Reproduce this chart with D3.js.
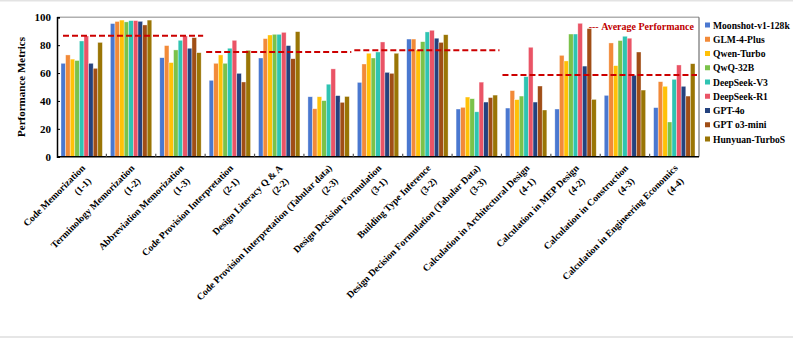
<!DOCTYPE html>
<html>
<head>
<meta charset="utf-8">
<script src="https://cdn.jsdelivr.net/npm/d3@7"></script>
<style>
  body { margin: 0; background: #fff; }
  svg { display: block; }
</style>
</head>
<body>
<svg width="793" height="338"></svg>
<script>
// Task categories (two-line labels)
const categories = [
  "Code Memorization", "Terminology Memorization", "Abbreviation Memorization",
  "Code Provision Interpretation", "Design Literacy Q & A",
  "Code Provision Interpretation (Tabular data)", "Design Decision Formulation",
  "Building Type Inference", "Design Decision Formulation (Tabular Data)",
  "Calculation in Architectural Design", "Calculation in MEP Design",
  "Calculation in Construction", "Calculation in Engineering Economics"
];
const codes = ["(1-1)", "(1-2)", "(1-3)", "(2-1)", "(2-2)", "(2-3)", "(3-1)",
  "(3-2)", "(3-3)", "(4-1)", "(4-2)", "(4-3)", "(4-4)"];

const models = ["Moonshot-v1-128k", "GLM-4-Plus", "Qwen-Turbo", "QwQ-32B",
  "DeepSeek-V3", "DeepSeek-R1", "GPT-4o", "GPT o3-mini", "Hunyuan-TurboS"];
const colors = ["#4a78d0", "#f28a38", "#ffc107", "#7bc24a", "#2fc4b2",
  "#ea5466", "#24427e", "#a04e16", "#9a7505"];

// one array per model, in category order
const moonshot = [67, 95.5, 71, 54.8, 70.8, 43, 53.3, 84.4, 34.2, 34.9, 34.2, 44, 35.2];
const glm      = [73, 97, 79.7, 67, 84.7, 34.4, 66.5, 84.4, 35.4, 47.4, 72.7, 81.6, 53.8];
const qwen     = [70, 98, 67.5, 73, 87.3, 43, 74.2, 76.5, 42.8, 40.9, 68.7, 65.3, 50.5];
const qwq      = [69, 96.7, 76.6, 67, 87.8, 40.2, 70.8, 82.5, 41.6, 43.5, 88, 83.3, 24.9];
const dsv3     = [83, 97.6, 83.5, 77.8, 87.8, 52, 75.1, 89.5, 32.2, 57.4, 88, 86.4, 55.5];
const dsr1     = [86.6, 97.6, 86.6, 83.5, 89.2, 63, 82.3, 90.7, 53.5, 78.5, 95.7, 85, 65.8];
const gpt4o    = [67, 97.1, 77.8, 59.8, 79.7, 43.8, 60.5, 85, 39.2, 39.2, 65, 58.4, 50.5];
const o3mini   = [63.4, 94.5, 85.4, 53.6, 70.3, 39, 59.8, 82, 42.4, 50.7, 91.9, 75.1, 43.5];
const hunyuan  = [82, 98, 74.6, 76.3, 89.7, 43.2, 74.2, 87.5, 44.2, 33.5, 41.1, 47.8, 66.7];
const series = [moonshot, glm, qwen, qwq, dsv3, dsr1, gpt4o, o3mini, hunyuan];

// average lines: first / last category index and value
const avgStart = [0, 3, 6, 9];
const avgEnd   = [2, 5, 8, 12];
const avgValue = [86.8, 75.1, 76.3, 58.6];

const yTicks = [0, 20, 40, 60, 80, 100];

const svg = d3.select("svg");
const font = "'Liberation Serif', 'Times New Roman', serif";
const margin = { top: 17.3, right: 94, bottom: 181.3, left: 57 };
const W = 793, H = 338;
const iw = W - margin.left - margin.right;
const ih = H - margin.top - margin.bottom;

// light frame lines of the picture
svg.append("rect").attr("x", 0).attr("y", 0).attr("width", W).attr("height", 1.5).attr("fill", "#e3e3e3");
svg.append("rect").attr("x", 0).attr("y", H - 2).attr("width", W).attr("height", 2).attr("fill", "#e6e6e6");

const g = svg.append("g").attr("transform", `translate(${margin.left},${margin.top})`);

const x = d3.scaleBand().domain(d3.range(categories.length)).range([0, iw]).padding(0);
const xi = d3.scaleBand().domain(d3.range(models.length))
  .range([4, x.bandwidth() - 4]).padding(0);
const y = d3.scaleLinear().domain([0, 100]).range([ih, 0]);

// frame (top / right)
g.append("line").attr("x1", 0).attr("x2", iw).attr("y1", 0).attr("y2", 0)
  .attr("stroke", "#b0b0b0").attr("stroke-width", 1.5);
g.append("line").attr("x1", iw).attr("x2", iw).attr("y1", 0).attr("y2", ih)
  .attr("stroke", "#555").attr("stroke-width", 1);

// bars
const groups = g.selectAll("g.cat")
  .data(categories)
  .join("g")
  .attr("class", "cat")
  .attr("transform", (d, i) => `translate(${x(i)},0)`);

groups.selectAll("rect")
  .data((d, i) => series.map((s, k) => ({ k, v: s[i] })))
  .join("rect")
  .attr("x", d => xi(d.k))
  .attr("width", xi.bandwidth())
  .attr("y", d => y(d.v))
  .attr("height", d => ih - y(d.v))
  .attr("fill", d => colors[d.k])
  .attr("stroke", "#ffffff")
  .attr("stroke-opacity", 0.6)
  .attr("stroke-width", 0.6);

// average lines
avgValue.forEach((v, i) => {
  g.append("line")
    .attr("x1", x(avgStart[i]) + (i === 0 ? 6 : 1))
    .attr("x2", x(avgEnd[i]) + x.bandwidth() - 2)
    .attr("y1", y(v)).attr("y2", y(v))
    .attr("stroke", "#cc0000")
    .attr("stroke-width", 2)
    .attr("stroke-dasharray", "6,3");
});

// y axis
const yAxis = g.append("g")
  .call(d3.axisLeft(y).tickValues(yTicks).tickSize(-3).tickPadding(6));
yAxis.select(".domain").attr("stroke", "#000").attr("stroke-width", 1.5);
yAxis.selectAll(".tick line").attr("stroke", "#000");
yAxis.selectAll("text").style("font-family", font).style("font-weight", "bold")
  .style("font-size", "11px").attr("fill", "#000");

// x axis line + small inner ticks at group boundaries
g.append("line").attr("x1", 0).attr("x2", iw).attr("y1", ih).attr("y2", ih)
  .attr("stroke", "#000").attr("stroke-width", 1.5);
g.selectAll("line.xt")
  .data(d3.range(1, categories.length))
  .join("line")
  .attr("class", "xt")
  .attr("x1", d => x(d)).attr("x2", d => x(d))
  .attr("y1", ih).attr("y2", ih - 3)
  .attr("stroke", "#555").attr("stroke-width", 1.2);

// x labels (rotated, right aligned)
const lab = g.selectAll("g.xl")
  .data(categories)
  .join("g")
  .attr("class", "xl")
  .attr("transform", (d, i) => `translate(${x(i) + x.bandwidth() / 2 + 4},${ih + 12})rotate(-45)`)
  .style("font-family", font).style("font-weight", "bold").style("font-size", "9.7px");
lab.append("text").attr("text-anchor", "end").text(d => d);
lab.append("text").attr("text-anchor", "end").attr("x", -5).attr("y", 13.5)
  .text((d, i) => codes[i]);

// y title
svg.append("text")
  .attr("transform", `translate(25,${margin.top + ih / 2})rotate(-90)`)
  .attr("text-anchor", "middle")
  .style("font-family", font).style("font-weight", "bold").style("font-size", "11px")
  .text("Performance Metrics");

// average label
const avgLab = g.append("text")
  .attr("x", iw - 5).attr("y", 12.5)
  .attr("text-anchor", "end")
  .attr("fill", "#c00000")
  .style("font-family", font).style("font-size", "10px");
avgLab.append("tspan").style("font-weight", "normal").text("--- ");
avgLab.append("tspan").style("font-weight", "bold").text("Average Performance");

// legend
const legend = svg.append("g").attr("transform", "translate(705,25)");
models.forEach((m, i) => {
  const row = legend.append("g").attr("transform", `translate(0,${i * 14.25})`);
  row.append("rect").attr("x", 0).attr("y", -2.5).attr("width", 5).attr("height", 5)
    .attr("fill", colors[i]);
  row.append("text").attr("x", 8).attr("y", 3.6)
    .style("font-family", font).style("font-weight", "bold").style("font-size", "9.6px")
    .text(m);
});
</script>
</body>
</html>
